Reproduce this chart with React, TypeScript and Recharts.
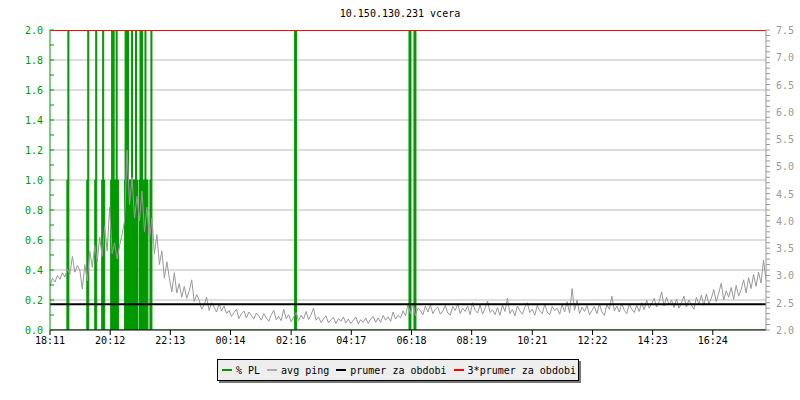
import { Area, CartesianGrid, ComposedChart, Line, XAxis, YAxis } from 'recharts'

const GREEN = '#009900'
const GRAY = '#999999'
const FONT = '"DejaVu Sans Mono", "Liberation Mono", monospace'

const title = '10.150.130.231 vcera'

// time axis: minutes since 18:11
const xTickTimes = [0, 121, 242, 363, 485, 606, 727, 848, 970, 1091, 1212, 1333]
const xTickLabels = ['18:11', '20:12', '22:13', '00:14', '02:16', '04:17', '06:18', '08:19', '10:21', '12:22', '14:23', '16:24']

const leftGridValues = [0.2, 0.4, 0.6, 0.8, 1.0, 1.2, 1.4, 1.6, 1.8]

// packet loss bursts: [start min, end min, % PL]
const plSegments: [number, number, number][] = [
  [34, 36, 1], [36, 38, 2],
  [74, 76, 1], [76, 78, 2],
  [90, 92, 1], [92, 94, 2],
  [104, 106, 1], [106, 108, 2], [108, 110, 1],
  [122, 124, 1], [124, 126, 2], [126, 127, 1], [127, 129, 2], [129, 133, 1], [133, 135, 2], [135, 138, 1],
  [150, 151, 1], [151, 158, 2], [158, 164, 1], [164, 166, 2], [166, 172, 1], [172, 174, 2], [174, 176, 1],
  [179, 181, 1], [181, 186, 2], [186, 191, 1], [191, 193, 2], [193, 197, 1],
  [201, 203, 1], [203, 205, 2],
  [492, 496, 2],
  [722, 726, 2],
  [732, 736, 2],
]

// avg ping (ms), one sample every 5 minutes
const pingStep = 5
const pingMs = [
  2.80, 2.95, 2.88, 3.00, 2.93, 3.05, 2.97, 3.12, 3.02, 3.35, 3.06, 3.18,
  3.10, 2.75, 3.20, 2.90, 3.45, 3.15, 3.55, 3.25, 3.70, 3.35, 3.90, 3.45,
  4.25, 3.40, 3.60, 3.30, 3.55, 3.75, 4.00, 5.30, 4.30, 4.80, 4.05, 4.45,
  4.00, 4.55, 3.80, 4.25, 3.65, 4.05, 3.40, 3.75, 3.20, 3.45, 2.95, 3.25,
  2.95, 2.70, 3.05, 2.68, 2.85, 2.60, 2.80, 2.58, 2.72, 2.92, 2.52, 2.65,
  2.55, 2.38, 2.46, 2.60, 2.36, 2.50, 2.42, 2.33, 2.48, 2.35, 2.44, 2.30,
  2.36, 2.25, 2.32, 2.38, 2.21, 2.30, 2.35, 2.22, 2.33, 2.27, 2.20, 2.31,
  2.26, 2.18, 2.30, 2.22, 2.16, 2.28, 2.36, 2.19, 2.25, 2.17, 2.38, 2.21,
  2.28, 2.15, 2.24, 2.32, 2.17, 2.27, 2.20, 2.34, 2.19, 2.28, 2.40, 2.18,
  2.24, 2.14, 2.20, 2.26, 2.13, 2.19, 2.23, 2.12, 2.21, 2.16, 2.24, 2.13,
  2.20, 2.12, 2.18, 2.24, 2.11, 2.19, 2.14, 2.22, 2.12, 2.20, 2.25, 2.14,
  2.22, 2.14, 2.27, 2.18, 2.24, 2.16, 2.33, 2.20, 2.27, 2.22, 2.35, 2.26,
  2.47, 2.30, 2.50, 2.26, 2.40, 2.36, 2.28, 2.44, 2.33, 2.46, 2.30, 2.38,
  2.42, 2.29, 2.35, 2.45, 2.31, 2.27, 2.43, 2.36, 2.48, 2.30, 2.40, 2.34,
  2.44, 2.28, 2.50, 2.36, 2.31, 2.46, 2.29, 2.40, 2.53, 2.32, 2.37, 2.28,
  2.41, 2.27, 2.46, 2.34, 2.58, 2.30, 2.38, 2.26, 2.44, 2.35, 2.29, 2.42,
  2.50, 2.32, 2.38, 2.27, 2.45, 2.35, 2.30, 2.47, 2.33, 2.28, 2.43, 2.36,
  2.40, 2.29, 2.47, 2.33, 2.52, 2.31, 2.76, 2.36, 2.55, 2.30, 2.42, 2.34,
  2.45, 2.28, 2.36, 2.43, 2.30, 2.48, 2.33, 2.27, 2.46, 2.38, 2.62, 2.35,
  2.44, 2.33, 2.49, 2.36, 2.30, 2.47, 2.38, 2.32, 2.45, 2.34, 2.50, 2.37,
  2.55, 2.40, 2.48, 2.58, 2.42, 2.52, 2.70, 2.44, 2.60, 2.46, 2.55, 2.41,
  2.57, 2.40, 2.50, 2.62, 2.42, 2.55, 2.46, 2.38, 2.60, 2.47, 2.64, 2.45,
  2.66, 2.48, 2.58, 2.74, 2.52, 2.68, 2.86, 2.55, 2.72, 2.60, 2.78, 2.56,
  2.82, 2.62, 2.74, 2.92, 2.68, 2.96, 2.76, 3.02, 2.80, 3.06, 2.86, 3.28, 2.92,
]

const avgPing = 2.47
const tripleAvgPing = 7.49

const legendItems = [
  { label: '% PL', color: GREEN },
  { label: 'avg ping', color: '#aaaaaa' },
  { label: 'prumer za obdobi', color: '#000000' },
  { label: '3*prumer za obdobi', color: '#ff0000' },
]

// build step-area points for the PL bursts
const plData: { t: number; pl: number }[] = [{ t: 0, pl: 0 }]
plSegments.forEach(([s, e, v], i) => {
  plData.push({ t: s, pl: v })
  const next = plSegments[i + 1]
  if (!next || next[0] !== e) plData.push({ t: e, pl: 0 })
})
plData.push({ t: 1440, pl: 0 })

const pingData = pingMs.map((v, i) => ({ t: i * pingStep, ping: v }))
const avgData = [{ t: 0, v: avgPing }, { t: 1440, v: avgPing }]
const tripleData = [{ t: 0, v: tripleAvgPing }, { t: 1440, v: tripleAvgPing }]

const leftTicks = Array.from({ length: 21 }, (_, i) => +(i * 0.1).toFixed(1))
const rightTicks = Array.from({ length: 56 }, (_, i) => +(2 + i * 0.1).toFixed(1))

function LeftTick({ x, y, payload }: any) {
  const major = Math.round(payload.value * 10) % 2 === 0
  return (
    <g>
      <line x1={x + 7} x2={x + 11} y1={y} y2={y} stroke={GREEN} />
      {major && (
        <text x={x} y={y} dy={4} textAnchor="end" fill={GREEN} fontSize={10} fontFamily={FONT}>
          {payload.value.toFixed(1)}
        </text>
      )}
    </g>
  )
}

function RightTick({ x, y, payload }: any) {
  const major = Math.round(payload.value * 10) % 5 === 0
  if (!major) return <g />
  return (
    <text x={x} y={y} dy={4} textAnchor="start" fill={GRAY} fontSize={10} fontFamily={FONT}>
      {payload.value.toFixed(1)}
    </text>
  )
}

export default function App() {
  return (
    <div style={{ position: 'absolute', left: 0, top: 0, width: 800, height: 400, background: '#fff', fontFamily: FONT }}>
      <div style={{ position: 'absolute', top: 7, left: 0, width: 800, textAlign: 'center', fontSize: 10, lineHeight: '14px', color: '#000' }}>
        {title}
      </div>
      <ComposedChart width={800} height={400} margin={{ top: 30, right: 0, bottom: 40, left: 0 }}>
        <CartesianGrid yAxisId="left" horizontalValues={leftGridValues} vertical={false} stroke="#bbbbbb" />
        <XAxis
          type="number"
          dataKey="t"
          domain={[0, 1440]}
          ticks={xTickTimes}
          interval={0}
          allowDataOverflow
          tickFormatter={(v: number) => xTickLabels[xTickTimes.indexOf(v)] ?? ''}
          height={30}
          tickSize={5}
          tickMargin={2}
          stroke="#000"
          tick={{ fill: '#000', fontSize: 10, fontFamily: FONT }}
        />
        <YAxis
          yAxisId="left"
          domain={[0, 2]}
          ticks={leftTicks}
          interval={0}
          allowDataOverflow
          width={50}
          tickSize={0}
          tickMargin={7}
          tickLine={false}
          axisLine={{ stroke: GREEN }}
          tick={LeftTick}
        />
        <YAxis
          yAxisId="right"
          orientation="right"
          domain={[2, 7.5]}
          ticks={rightTicks}
          interval={0}
          allowDataOverflow
          width={34}
          tickSize={4}
          tickMargin={6}
          tickLine={{ stroke: GRAY }}
          axisLine={{ stroke: GRAY }}
          tick={RightTick}
        />
        <Area
          yAxisId="left"
          data={plData}
          dataKey="pl"
          type="stepAfter"
          stroke={GREEN}
          strokeWidth={1}
          fill={GREEN}
          fillOpacity={1}
          dot={false}
          activeDot={false}
          isAnimationActive={false}
        />
        <Line
          yAxisId="right"
          data={pingData}
          dataKey="ping"
          type="linear"
          stroke={GRAY}
          strokeWidth={1}
          dot={false}
          activeDot={false}
          isAnimationActive={false}
        />
        <Line
          yAxisId="right"
          data={avgData}
          dataKey="v"
          stroke="#000"
          strokeWidth={2}
          dot={false}
          activeDot={false}
          isAnimationActive={false}
        />
        <Line
          yAxisId="right"
          data={tripleData}
          dataKey="v"
          stroke="#ff0000"
          strokeWidth={1}
          dot={false}
          activeDot={false}
          isAnimationActive={false}
        />
      </ComposedChart>
      <div
        style={{
          position: 'absolute',
          left: 217,
          top: 359,
          width: 362,
          height: 22,
          border: '1px solid #000',
          background: '#eeeeee',
          boxShadow: '2px 2px 0 #777',
          display: 'flex',
          alignItems: 'center',
          paddingLeft: 4,
          boxSizing: 'border-box',
          fontSize: 10,
          color: '#000',
          whiteSpace: 'pre',
        }}
      >
        {legendItems.map((it) => (
          <span key={it.label} style={{ display: 'flex', alignItems: 'center', marginRight: 7 }}>
            <span style={{ display: 'inline-block', width: 10, height: 2, background: it.color, marginRight: 4 }} />
            {it.label}
          </span>
        ))}
      </div>
    </div>
  )
}
